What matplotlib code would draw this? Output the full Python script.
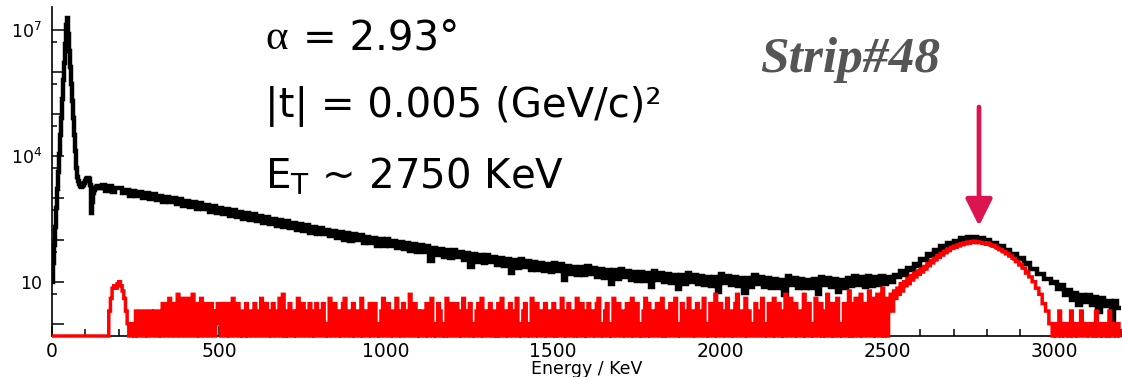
import numpy as np
import matplotlib
matplotlib.use("Agg")
import matplotlib.pyplot as plt

# Energy spectrum of strip #48 (keV)
# all events: 3 keV bins up to 150 keV, then 10 keV bins up to 3200 keV
low_bin_kev = 3
high_bin_kev = 10
split_kev = 150

# log10(counts), 0-150 keV
black_low_log10 = [
    1.00, 1.45, 1.88, 2.30, 2.75, 3.20, 3.60, 4.05, 4.50, 4.90,
    5.35, 5.80, 6.20, 6.65, 7.10, 7.28, 6.90, 6.50, 6.10, 5.70,
    5.30, 4.90, 4.50, 4.10, 3.70, 3.50, 3.40, 3.33, 3.28, 3.26,
    3.27, 3.30, 3.35, 3.40, 3.44, 3.47, 3.48, 3.45, 3.30, 2.63,
    2.90, 3.10, 3.18, 3.22, 3.25, 3.27, 3.26, 3.24, 3.25, 3.23,
]

# log10(counts), 150-3200 keV, one row per 100 keV from 200 keV on
black_high_log10 = [
    3.30, 3.17, 3.27, 3.13, 3.24,
    3.23, 3.10, 3.19, 3.05, 3.17, 3.04, 3.14, 2.99, 3.12, 2.96,
    3.08, 2.95, 3.04, 2.90, 3.02, 2.89, 2.99, 2.84, 2.96, 2.80,
    2.93, 2.79, 2.89, 2.74, 2.87, 2.72, 2.83, 2.67, 2.80, 2.63,
    2.76, 2.62, 2.72, 2.57, 2.70, 2.55, 2.66, 2.50, 2.63, 2.46,
    2.60, 2.45, 2.56, 2.40, 2.53, 2.38, 2.50, 2.33, 2.47, 2.30,
    2.44, 2.29, 2.40, 2.24, 2.37, 2.21, 2.34, 2.16, 2.31, 2.14,
    2.28, 2.13, 2.24, 2.08, 2.21, 2.05, 2.18, 2.00, 2.16, 1.98,
    2.14, 1.99, 2.10, 1.93, 2.07, 1.91, 2.04, 1.86, 2.02, 1.84,
    2.01, 1.85, 1.97, 1.80, 1.94, 1.77, 1.91, 1.72, 1.89, 1.70,
    1.88, 1.71, 1.84, 1.50, 1.81, 1.64, 1.78, 1.58, 1.76, 1.57,
    1.76, 1.58, 1.71, 1.52, 1.69, 1.35, 1.66, 1.48, 1.64, 1.45,
    1.64, 1.46, 1.59, 1.40, 1.57, 1.37, 1.54, 1.20, 1.52, 1.33,
    1.54, 1.35, 1.49, 1.29, 1.47, 1.27, 1.45, 1.25, 1.43, 1.22,
    1.45, 1.26, 1.41, 1.05, 1.38, 1.19, 1.36, 1.16, 1.35, 1.15,
    1.38, 1.18, 1.33, 1.12, 1.31, 1.09, 1.29, 0.95, 1.27, 1.07,
    1.31, 1.10, 1.26, 1.05, 1.24, 1.02, 1.22, 1.01, 1.21, 0.88,
    1.25, 1.04, 1.20, 0.99, 1.18, 0.96, 1.16, 0.82, 1.15, 0.94,
    1.21, 1.00, 1.17, 0.95, 1.14, 0.92, 1.12, 0.90, 1.11, 0.76,
    1.18, 0.97, 1.13, 0.91, 1.11, 0.89, 1.09, 0.72, 1.08, 0.87,
    1.15, 0.94, 1.10, 0.88, 1.08, 0.85, 1.07, 0.86, 1.05, 0.68,
    1.13, 0.92, 1.09, 0.86, 1.07, 0.84, 1.05, 0.85, 1.06, 0.71,
    1.12, 0.91, 1.08, 0.87, 1.06, 0.75, 1.05, 0.85, 1.09, 0.89,
    1.14, 0.92, 1.10, 0.88, 1.13, 0.90, 1.11, 0.93, 1.14, 0.95,
    1.10, 0.99, 1.15, 1.10, 1.26, 1.15, 1.33, 1.29, 1.41, 1.38,
    1.55, 1.51, 1.65, 1.60, 1.75, 1.70, 1.84, 1.79, 1.92, 1.88,
    1.98, 1.95, 2.03, 1.98, 2.06, 2.00, 2.07, 1.98, 2.04, 1.95,
    1.99, 1.89, 1.93, 1.82, 1.85, 1.74, 1.76, 1.64, 1.66, 1.54,
    1.56, 1.43, 1.44, 1.31, 1.31, 1.19, 1.19, 1.06, 1.07, 0.96,
    1.00, 0.82, 0.93, 0.69, 0.81, 0.57, 0.73, 0.45, 0.68, 0.52,
    0.69, 0.45, 0.63, 0.28, 0.61, 0.42, 0.55, 0.00, 0.53, 0.38,
]

# selected events (red), counts per 5 keV bin, one row per 100 keV
red_bin_kev = 5
red_counts = [
    0, 0, 0, 0, 0, 0, 0, 0, 0, 0, 0, 0, 0, 0, 0, 0, 0, 0, 0, 0,
    0, 0, 0, 0, 0, 0, 0, 0, 0, 0, 0, 0, 0, 0, 2, 4, 7, 8, 7, 9,
    10, 8, 6, 4, 2, 1, 0, 0, 1, 0, 2, 0, 0, 2, 1, 0, 2, 0, 1, 2,
    0, 2, 1, 0, 2, 0, 3, 1, 0, 3, 4, 0, 2, 3, 0, 5, 3, 0, 4, 2,
    0, 4, 3, 0, 5, 2, 0, 3, 0, 4, 2, 0, 3, 1, 0, 3, 2, 0, 2, 3,
    1, 0, 3, 2, 0, 3, 0, 2, 4, 0, 1, 3, 0, 2, 0, 0, 3, 0, 2, 1,
    0, 3, 1, 0, 2, 4, 0, 1, 3, 0, 2, 0, 3, 1, 0, 2, 4, 0, 5, 0,
    2, 0, 3, 1, 0, 2, 0, 4, 1, 0, 3, 2, 0, 1, 3, 0, 2, 0, 3, 1,
    0, 2, 3, 0, 1, 0, 4, 2, 0, 3, 1, 0, 2, 0, 3, 4, 0, 1, 2, 0,
    3, 0, 1, 2, 0, 4, 0, 2, 1, 0, 3, 0, 2, 3, 0, 1, 0, 2, 4, 0,
    1, 3, 0, 2, 0, 1, 4, 0, 2, 0, 3, 1, 0, 2, 5, 0, 1, 3, 0, 2,
    0, 2, 1, 0, 3, 0, 2, 4, 0, 1, 0, 3, 2, 0, 1, 0, 4, 0, 2, 3,
    0, 1, 3, 0, 2, 0, 4, 1, 0, 2, 3, 0, 1, 0, 2, 3, 0, 4, 0, 1,
    2, 0, 3, 1, 0, 2, 0, 3, 0, 4, 1, 0, 2, 0, 3, 1, 0, 2, 4, 0,
    1, 0, 2, 3, 0, 1, 0, 4, 2, 0, 3, 0, 1, 2, 0, 3, 0, 2, 1, 0,
    3, 0, 2, 0, 1, 4, 0, 2, 0, 3, 1, 0, 2, 0, 4, 0, 1, 3, 0, 2,
    0, 3, 1, 0, 2, 0, 3, 4, 0, 1, 0, 2, 3, 0, 1, 0, 4, 2, 0, 3,
    1, 0, 2, 0, 3, 1, 0, 4, 0, 2, 3, 0, 1, 0, 2, 4, 0, 3, 0, 1,
    2, 0, 3, 1, 0, 4, 0, 2, 0, 1, 3, 0, 2, 4, 0, 1, 0, 3, 2, 0,
    0, 4, 1, 0, 2, 0, 3, 1, 0, 2, 4, 0, 1, 0, 3, 2, 0, 5, 0, 1,
    3, 0, 2, 0, 4, 1, 0, 2, 0, 3, 5, 0, 1, 2, 0, 4, 0, 2, 1, 0,
    0, 3, 1, 0, 2, 4, 0, 1, 0, 3, 2, 0, 4, 0, 1, 3, 0, 2, 0, 5,
    1, 0, 4, 2, 0, 3, 0, 1, 2, 0, 5, 0, 2, 3, 0, 1, 0, 4, 2, 0,
    3, 0, 2, 0, 5, 1, 0, 3, 0, 2, 4, 0, 1, 0, 3, 2, 0, 6, 0, 3,
    0, 4, 2, 0, 5, 0, 3, 1, 0, 6, 2, 0, 4, 0, 5, 3, 0, 7, 0, 4,
    0, 3, 5, 2, 6, 4, 7, 5, 9, 6, 10, 8, 12, 9, 14, 11, 16, 13, 18, 15,
    20, 17, 23, 20, 27, 24, 32, 28, 36, 33, 42, 38, 47, 43, 53, 49, 60, 55, 66, 62,
    70, 66, 75, 71, 80, 76, 84, 80, 88, 83, 86, 90, 92, 85, 90, 86, 86, 82, 84, 78,
    84, 78, 74, 70, 72, 66, 62, 58, 58, 52, 52, 46, 47, 41, 41, 36, 35, 30, 30, 25,
    26, 21, 21, 16, 17, 13, 13, 10, 10, 7, 7, 5, 5, 3, 3, 2, 2, 1, 1, 0,
    1, 0, 0, 2, 0, 1, 0, 0, 1, 0, 2, 0, 0, 1, 0, 0, 2, 1, 0, 0,
    1, 0, 0, 1, 0, 2, 0, 0, 1, 0, 0, 1, 0, 2, 0, 0, 1, 0, 1, 0,
]

y_labels = {10: "10", 1e4: r"$\mathregular{10^{4}}$", 1e7: r"$\mathregular{10^{7}}$"}

plt.rcParams["font.family"] = "DejaVu Sans"
plt.rcParams["mathtext.fontset"] = "dejavusans"

W, H = 1122, 377
fig = plt.figure(figsize=(W / 100, H / 100), dpi=100)
ax = fig.add_axes([52 / W, 41 / H, 1 - 52 / W, 329 / H])

black_edges = np.concatenate([
    np.arange(len(black_low_log10)) * low_bin_kev,
    split_kev + np.arange(len(black_high_log10) + 1) * high_bin_kev,
])
black = 10 ** np.array(black_low_log10 + black_high_log10)

red_edges = np.arange(len(red_counts) + 1) * red_bin_kev
ymin, ymax = 0.509, 3.47e7
# empty bins drawn on the frame bottom like ROOT does
red = np.array(red_counts, dtype=float)
red[red <= 0] = ymin

ax.stairs(black, black_edges, baseline=None, color="black", lw=3.2, zorder=3)
ax.stairs(red, red_edges, baseline=None, color="#ff0000", lw=2.5, zorder=4, clip_on=False)

ax.set_yscale("log")
ax.set_xlim(0, 3204)
ax.set_ylim(ymin, ymax)

for s in ["top", "right"]:
    ax.spines[s].set_visible(False)
for s in ["left", "bottom"]:
    ax.spines[s].set_linewidth(1.2)

ax.set_xticks(np.arange(0, 3001, 500))
ax.set_xticks(np.arange(0, 3201, 100), minor=True)
ax.set_xticklabels([str(v) for v in range(0, 3001, 500)], fontsize=13.5)

decades = [10.0 ** k for k in range(0, 8)]
ax.set_yticks(decades)
ax.set_yticklabels([y_labels.get(d, "") for d in decades], fontsize=12.5)
ax.set_yticks([5 * 10.0 ** k for k in range(0, 7)], minor=True)
ax.yaxis.set_minor_formatter(matplotlib.ticker.NullFormatter())

ax.tick_params(axis="x", which="major", direction="in", length=7.2, width=1.1, pad=4)
ax.tick_params(axis="x", which="minor", direction="in", length=5, width=1.1)
ax.tick_params(axis="y", which="major", direction="in", length=8.6, width=1.1, pad=7)
ax.tick_params(axis="y", which="minor", direction="in", length=3.6, width=1.1)

ax.set_xlabel("Energy / KeV", fontsize=12.5)
ax.xaxis.set_label_coords(0.5, -0.073)


def fx(px):
    return px / W


def fy(py):
    return 1 - py / H


# annotations
fig.text(fx(265), fy(49), "α", family="Liberation Serif", fontsize=31, va="baseline")
fig.text(fx(303), fy(49), "= 2.93°", fontsize=29, va="baseline")
fig.text(fx(265), fy(117), "|t| = 0.005 (GeV/c)²", fontsize=29, va="baseline")
fig.text(fx(265), fy(188), r"E$\mathregular{_T}$ ~ 2750 KeV", fontsize=29, va="baseline")

fig.text(fx(760), fy(72), "Strip#48", family="Liberation Serif", style="italic",
         weight="bold", fontsize=37, color="#555555", va="baseline")

ax.annotate("", xy=(979, H - 226), xytext=(979, H - 107),
            xycoords="figure pixels", textcoords="figure pixels",
            arrowprops=dict(arrowstyle="-|>,head_length=0.9,head_width=0.45",
                            mutation_scale=18, color="#dc1450", lw=3.4,
                            shrinkA=0, shrinkB=0))

fig.savefig("out.png", dpi=100)
